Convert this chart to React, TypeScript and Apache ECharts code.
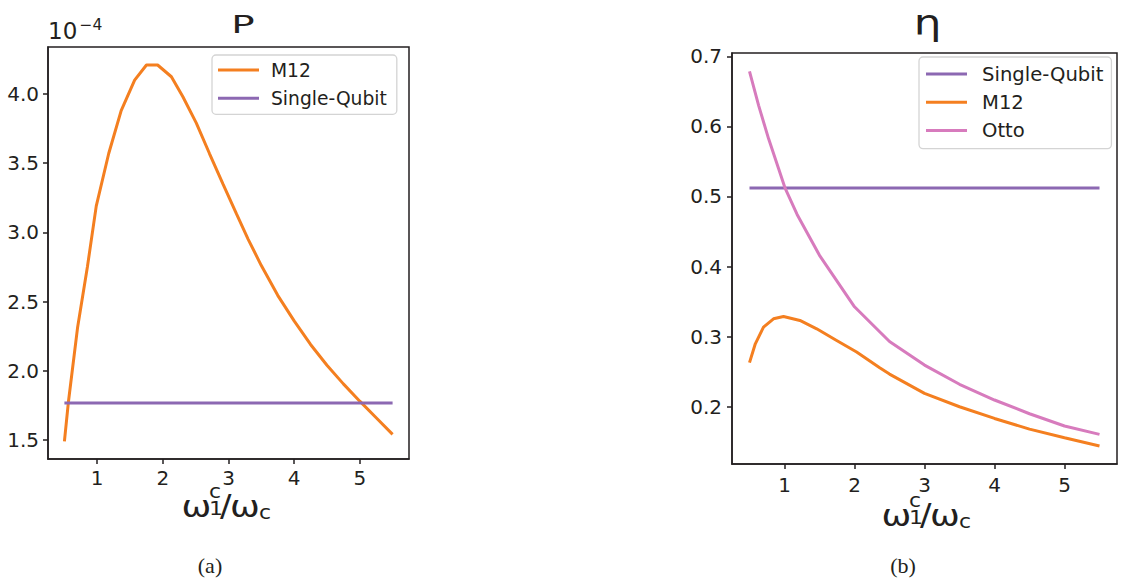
import React, { useEffect, useRef } from 'react';
import * as echarts from 'echarts';

// ---- data ----
const xTicks = [1, 2, 3, 4, 5];
const pTicks = [1.5, 2.0, 2.5, 3.0, 3.5, 4.0];
const etaTicks = [0.2, 0.3, 0.4, 0.5, 0.6, 0.7];
const xEnds = [0.5, 5.5];

// Panel (a): power P (x 1e-4)
const pX = [0.5, 0.56, 0.7, 0.85, 0.985, 1.175, 1.365, 1.57, 1.75, 1.92, 2.13, 2.305, 2.51, 2.71, 2.915, 3.12, 3.3, 3.5, 3.75, 4.0, 4.25, 4.5, 4.75, 5.0, 5.25, 5.5];
const pM12 = [1.49, 1.77, 2.31, 2.75, 3.19, 3.57, 3.88, 4.1, 4.21, 4.21, 4.125, 3.98, 3.79, 3.57, 3.35, 3.135, 2.95, 2.76, 2.545, 2.36, 2.19, 2.04, 1.905, 1.78, 1.66, 1.54];
const pSingle = 1.766;

// Panel (b): efficiency eta
const etaM12X = [0.5, 0.583, 0.7, 0.843, 0.986, 1.22, 1.46, 1.745, 2.03, 2.36, 2.5, 3.0, 3.5, 4.0, 4.5, 5.0, 5.5];
const etaM12 = [0.263, 0.2898, 0.3135, 0.3255, 0.3288, 0.3231, 0.3112, 0.2946, 0.278, 0.2555, 0.2466, 0.219, 0.2, 0.1833, 0.168, 0.1557, 0.1441];
const ottoX = [0.5, 0.63, 0.772, 0.915, 1.01, 1.18, 1.5, 2.0, 2.5, 3.0, 3.5, 4.0, 4.5, 5.0, 5.5];
const etaOtto = [0.6786, 0.63, 0.5826, 0.5398, 0.5114, 0.4743, 0.416, 0.3426, 0.293, 0.2594, 0.232, 0.2096, 0.19, 0.1725, 0.1606];
const etaSingle = 0.512;

const ORANGE = '#f47f20';
const PURPLE = '#8c68b2';
const PINK = '#d77bbd';
const INK = '#231f20';
const SANS = 'DejaVu Sans';
const SERIF = 'Liberation Serif';

const zip = (xs: number[], ys: number[]) => xs.map((x, i) => [x, ys[i]]);

const xAxisCfg = (gridIndex: number, margin: number) => ({
  type: 'value',
  gridIndex,
  min: 0.25,
  max: 5.75,
  axisLine: { show: true, onZero: false, lineStyle: { color: INK, width: 1.5 } },
  axisTick: { show: true, length: 5, lineStyle: { color: INK, width: 1.5 }, customValues: xTicks },
  axisLabel: {
    customValues: xTicks,
    formatter: (v: number) => String(Math.round(v)),
    color: INK,
    fontFamily: SANS,
    fontSize: 20,
    margin,
  },
  splitLine: { show: false },
});

const yAxisCfg = (gridIndex: number, min: number, max: number, ticks: number[], margin: number) => ({
  type: 'value',
  gridIndex,
  min,
  max,
  axisLine: { show: true, onZero: false, lineStyle: { color: INK, width: 1.5 } },
  axisTick: { show: true, length: 5, lineStyle: { color: INK, width: 1.5 }, customValues: ticks },
  axisLabel: {
    customValues: ticks,
    formatter: (v: number) => v.toFixed(1),
    color: INK,
    fontFamily: SANS,
    fontSize: 20,
    margin,
  },
  splitLine: { show: false },
});

const txt = (
  text: string,
  x: number,
  baseline: number,
  size: number,
  align: string = 'left',
  family: string = SANS,
  sx = 1,
  lh?: number,
  k = 0.346,
) => ({
  type: 'text',
  x,
  y: baseline - k * size,
  scaleX: sx,
  style: {
    text,
    fill: INK,
    fontSize: size,
    fontFamily: family,
    textAlign: align,
    verticalAlign: 'middle',
    lineHeight: lh ?? size,
  },
});

const xLabel = (x0: number, base: number) => [
  txt('ω', x0, base, 31, 'left', SANS, 1.15),
  txt('c', x0 + 27.5, base - 19, 20, 'left', SANS, 1.1, 13),
  txt('1', x0 + 27.5, base - 1.5, 20, 'left', SANS, 1.1, 13),
  txt('/', x0 + 38.5, base, 31, 'left', SANS, 1.1),
  txt('ω', x0 + 48.5, base, 31, 'left', SANS, 1.15),
  txt('c', x0 + 77.5, base + 2, 20, 'left', SANS, 1.1),
];

const legendCfg = (names: string[], left: number, top: number, fontSize: number, pad: number[], gap: number, textPad: number) => ({
  data: names,
  orient: 'vertical',
  left,
  top,
  icon: 'rect',
  itemWidth: 41,
  itemHeight: 3,
  itemGap: gap,
  padding: pad,
  backgroundColor: 'rgba(255,255,255,0.8)',
  borderColor: '#d4d4d4',
  borderWidth: 1.3,
  borderRadius: 4,
  selectedMode: false,
  textStyle: {
    color: INK,
    fontFamily: SANS,
    fontSize,
    lineHeight: 22,
    padding: [0, 0, 0, textPad],
  },
});

export default function App() {
  const ref = useRef<HTMLDivElement>(null);
  useEffect(() => {
    if (!ref.current) return;
    const chart = echarts.init(ref.current, undefined, { renderer: 'svg' });
    const option: any = {
      animation: false,
      backgroundColor: '#ffffff',
      grid: [
        { left: 48, top: 47, width: 361, height: 412, show: true, borderColor: INK, borderWidth: 1.5, backgroundColor: 'transparent', containLabel: false, outerBoundsMode: 'none' },
        { left: 732, top: 53, width: 385, height: 411, show: true, borderColor: INK, borderWidth: 1.5, backgroundColor: 'transparent', containLabel: false, outerBoundsMode: 'none' },
      ],
      xAxis: [xAxisCfg(0, 9), xAxisCfg(1, 11)],
      yAxis: [yAxisCfg(0, 1.362, 4.34, pTicks, 9), yAxisCfg(1, 0.1183, 0.7047, etaTicks, 10)],
      legend: [
        legendCfg(['M12', 'Single-Qubit'], 212, 55, 18.7, [4, 10, 5, 6], 6.3, 7),
        legendCfg(['Single-Qubit', 'M12', 'Otto'], 919, 57, 19.6, [6, 8, 7, 7], 6.3, 10),
      ],
      series: [
        { name: 'M12', type: 'line', xAxisIndex: 0, yAxisIndex: 0, data: zip(pX, pM12), showSymbol: false, symbol: 'none', lineStyle: { color: ORANGE, width: 3 }, itemStyle: { color: ORANGE } },
        { name: 'Single-Qubit', type: 'line', xAxisIndex: 0, yAxisIndex: 0, data: xEnds.map((x) => [x, pSingle]), showSymbol: false, symbol: 'none', lineStyle: { color: PURPLE, width: 3 }, itemStyle: { color: PURPLE } },
        { name: 'Single-Qubit', type: 'line', xAxisIndex: 1, yAxisIndex: 1, data: xEnds.map((x) => [x, etaSingle]), showSymbol: false, symbol: 'none', lineStyle: { color: PURPLE, width: 3 }, itemStyle: { color: PURPLE } },
        { name: 'M12', type: 'line', xAxisIndex: 1, yAxisIndex: 1, data: zip(etaM12X, etaM12), showSymbol: false, symbol: 'none', lineStyle: { color: ORANGE, width: 3 }, itemStyle: { color: ORANGE } },
        { name: 'Otto', type: 'line', xAxisIndex: 1, yAxisIndex: 1, data: zip(ottoX, etaOtto), showSymbol: false, symbol: 'none', lineStyle: { color: PINK, width: 3 }, itemStyle: { color: PINK } },
      ],
      graphic: [
        txt('P', 243, 33.3, 25, 'center', SANS, 1.55),
        txt('η', 927.5, 35, 35, 'center', SANS, 1.25, 30),
        txt('10', 48, 39.3, 23),
        txt('−4', 79.5, 30.7, 15.5),
        ...xLabel(181.5, 516.7),
        ...xLabel(881.5, 525.7),
        txt('(a)', 210, 573, 22, 'center', SERIF, 1, undefined, 0.3375),
        txt('(b)', 903, 573, 22, 'center', SERIF, 1, undefined, 0.3375),
      ],
    };
    chart.setOption(option);
    return () => chart.dispose();
  }, []);
  return <div ref={ref} style={{ position: 'fixed', left: 0, top: 0, width: 1126, height: 588, background: '#fff' }} />;
}
